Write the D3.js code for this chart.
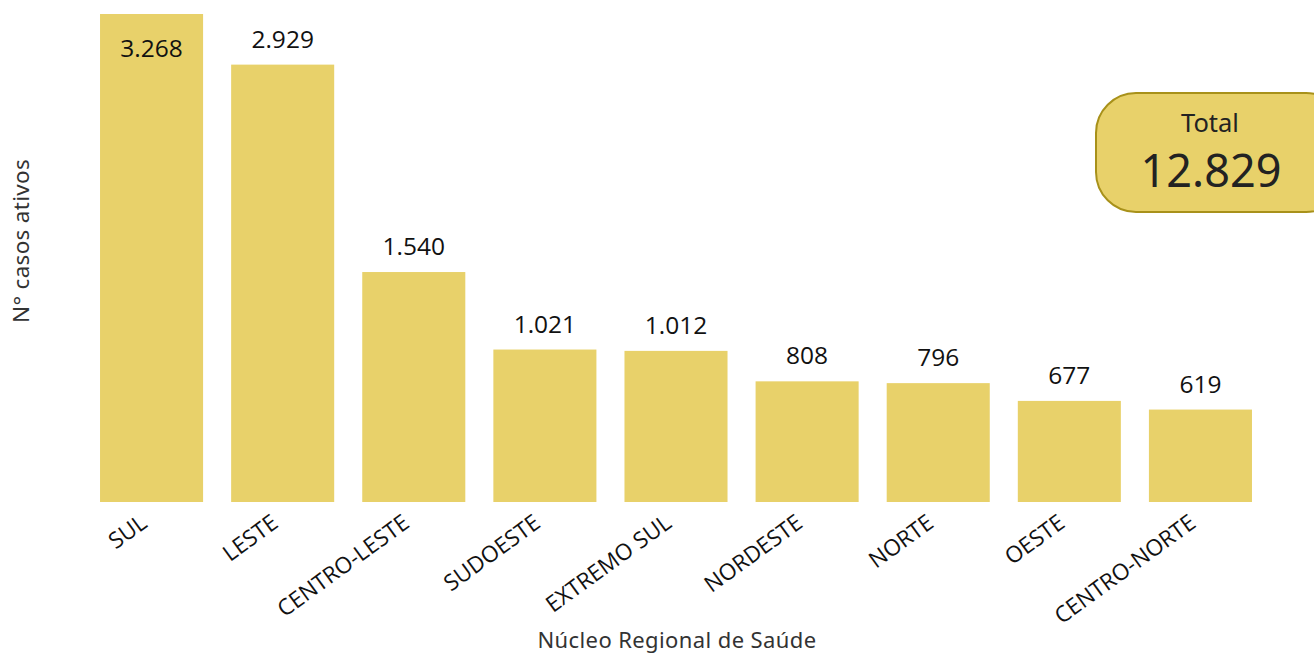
<!DOCTYPE html>
<html>
<head>
<meta charset="utf-8">
<script src="https://cdn.jsdelivr.net/npm/d3@7"></script>
<style>
    body { margin: 0; background: #ffffff; }
    svg { display: block; }
</style>
</head>
<body>
<div id="chart"></div>
<script>
// data
const regions = ["SUL", "LESTE", "CENTRO-LESTE", "SUDOESTE", "EXTREMO SUL", "NORDESTE", "NORTE", "OESTE", "CENTRO-NORTE"];
const activeCases = [3268, 2929, 1540, 1021, 1012, 808, 796, 677, 619];
const totalLabel = "Total";
const totalValue = 12829;

const width = 1314;
const height = 656;
const barColor = "#E8D16A";
const baseline = 502;

const ptBR = d3.formatLocale({ decimal: ",", thousands: ".", grouping: [3], currency: ["R$", ""] });
const fmt = ptBR.format(",d");

const svg = d3.select("#chart").append("svg")
    .attr("width", width)
    .attr("height", height);

const x = d3.scaleBand()
    .domain(regions)
    .range([86, 1266])
    .paddingInner(0.214)
    .paddingOuter(0.107);

const y = d3.scaleLinear()
    .domain([0, 3268])
    .range([baseline, 14]);

// bars
svg.selectAll("rect.bar")
    .data(regions)
    .enter().append("rect")
    .attr("class", "bar")
    .attr("x", d => x(d))
    .attr("width", x.bandwidth())
    .attr("y", (d, i) => y(activeCases[i]))
    .attr("height", (d, i) => baseline - y(activeCases[i]))
    .style("fill", barColor);

// value labels (inside the bar when there is no room above)
svg.selectAll("text.value")
    .data(regions)
    .enter().append("text")
    .attr("class", "value")
    .attr("x", d => x(d) + x.bandwidth() / 2)
    .attr("y", (d, i) => {
        const top = y(activeCases[i]);
        return top < 40 ? top + 43 : top - 17;
    })
    .attr("text-anchor", "middle")
    .style("font-family", "'Open Sans', 'Noto Sans', sans-serif")
    .style("font-size", "24.5px")
    .style("fill", "#111")
    .text((d, i) => fmt(activeCases[i]));

// x axis labels
const xAxis = svg.append("g")
    .attr("transform", `translate(0,${baseline})`)
    .call(d3.axisBottom(x).tickSize(0).tickPadding(0));
xAxis.select(".domain").remove();
xAxis.selectAll("text")
    .attr("text-anchor", "end")
    .attr("dy", "0")
    .attr("transform", "translate(-3,24) rotate(-36)")
    .style("font-family", "'Open Sans', 'Noto Sans', sans-serif")
    .style("font-size", "22.5px")
    .style("fill", "#111");

// axis titles
svg.append("text")
    .attr("x", 677)
    .attr("y", 648)
    .attr("text-anchor", "middle")
    .style("font-family", "'Noto Sans', 'DejaVu Sans', sans-serif")
    .style("font-size", "22px")
    .style("letter-spacing", "0.4px")
    .style("fill", "#333")
    .text("Núcleo Regional de Saúde");

svg.append("text")
    .attr("transform", "translate(29,241) rotate(-90)")
    .attr("text-anchor", "middle")
    .style("font-family", "'Noto Sans', 'DejaVu Sans', sans-serif")
    .style("font-size", "22.5px")
    .style("letter-spacing", "0.3px")
    .style("fill", "#333")
    .text("N° casos ativos");

// total card
const card = svg.append("g");
card.append("rect")
    .attr("x", 1096)
    .attr("y", 93)
    .attr("width", 250)
    .attr("height", 119)
    .attr("rx", 40)
    .style("fill", barColor)
    .style("stroke", "#A8911A")
    .style("stroke-width", 2);
card.append("text")
    .attr("x", 1210)
    .attr("y", 132)
    .attr("text-anchor", "middle")
    .style("font-family", "'Noto Sans', 'DejaVu Sans', sans-serif")
    .style("font-size", "25.5px")
    .style("fill", "#222")
    .text(totalLabel);
card.append("text")
    .attr("x", 1211)
    .attr("y", 187)
    .attr("text-anchor", "middle")
    .style("font-family", "'Noto Sans', 'DejaVu Sans', sans-serif")
    .style("font-size", "45px")
    .style("fill", "#222")
    .text(fmt(totalValue));
</script>
</body>
</html>
